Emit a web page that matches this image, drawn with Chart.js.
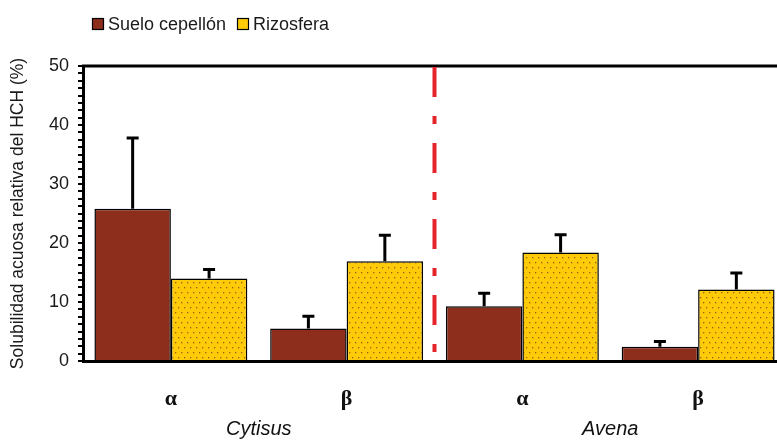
<!DOCTYPE html>
<html>
<head>
<meta charset="utf-8">
<script src="https://cdn.jsdelivr.net/npm/chart.js@4.4.1/dist/chart.umd.min.js"></script>
<style>
  html, body { margin: 0; padding: 0; background: #fff; overflow: hidden; width: 777px; height: 441px; }
  #wrap { width: 800px; height: 441px; }
</style>
</head>
<body>
<div id="wrap"><canvas id="chart" width="800" height="441"></canvas></div>
<script>
// HCH isomers per plant, and the two plant groups
const isomers = ['α', 'β', 'α', 'β'];
const plants = ['Cytisus', 'Avena'];

// Relative aqueous solubility of HCH (%) and standard errors
const sueloCepellon = [25.8, 5.5, 9.3, 2.4];
const sueloCepellonErr = [12.0, 2.1, 2.2, 0.9];
const rizosfera = [14.0, 16.9, 18.4, 12.1];
const rizosferaErr = [1.5, 4.4, 3.0, 2.8];

// Labelled y values; minor ticks fall in between
const yMajorTicks = [0, 10, 20, 30, 40, 50];
const yMinorStep = 1.25;

const BROWN = '#8C2E1B';
const YELLOW = '#FFCB08';

function dottedYellow() {
  const tile = document.createElement('canvas');
  tile.width = 6; tile.height = 10;
  const g = tile.getContext('2d');
  g.fillStyle = YELLOW;
  g.fillRect(0, 0, 6, 10);
  g.fillStyle = '#946414';
  g.fillRect(1, 2, 1.3, 1.3);
  g.fillRect(4, 7, 1.3, 1.3);
  return g.createPattern(tile, 'repeat');
}

const errorSets = [sueloCepellonErr, rizosferaErr];

const errorBars = {
  id: 'errorBars',
  afterDatasetsDraw(chart) {
    const { ctx, scales: { y } } = chart;
    chart.data.datasets.forEach((ds, di) => {
      const meta = chart.getDatasetMeta(di);
      meta.data.forEach((bar, i) => {
        const top = y.getPixelForValue(ds.data[i]);
        const tip = y.getPixelForValue(ds.data[i] + errorSets[di][i]);
        ctx.save();
        ctx.strokeStyle = '#000';
        ctx.lineWidth = 3;
        ctx.beginPath();
        ctx.moveTo(bar.x, top);
        ctx.lineTo(bar.x, tip);
        ctx.moveTo(bar.x - 6, tip);
        ctx.lineTo(bar.x + 6, tip);
        ctx.stroke();
        ctx.restore();
      });
    });
  }
};

// Frame top edge and the dash-dot separator between the plant groups
const frameAndDivider = {
  id: 'frameAndDivider',
  afterDatasetsDraw(chart) {
    const { ctx, chartArea: a, scales: { x } } = chart;
    ctx.save();
    ctx.strokeStyle = '#000';
    ctx.lineWidth = 3;
    ctx.beginPath();
    ctx.moveTo(a.left - 1, a.top);
    ctx.lineTo(a.right, a.top);
    ctx.stroke();
    const sx = x.getPixelForValue(1.5);
    ctx.strokeStyle = '#E5232B';
    ctx.lineWidth = 4;
    ctx.setLineDash([30, 19, 8, 19]);
    ctx.beginPath();
    ctx.moveTo(sx, a.top + 1);
    ctx.lineTo(sx, a.bottom - 2);
    ctx.stroke();
    ctx.restore();
  }
};

const topLegend = {
  id: 'topLegend',
  afterDraw(chart) {
    const ctx = chart.ctx;
    const items = [
      { text: 'Suelo cepellón', fill: BROWN, x: 92 },
      { text: 'Rizosfera', fill: YELLOW, x: 237 }
    ];
    ctx.save();
    ctx.font = '18px "Liberation Sans", Arial, sans-serif';
    ctx.textBaseline = 'alphabetic';
    items.forEach(it => {
      ctx.fillStyle = it.fill;
      ctx.fillRect(it.x, 18, 12, 12);
      ctx.strokeStyle = '#000';
      ctx.lineWidth = 1.2;
      ctx.strokeRect(it.x + 0.5, 18.5, 11, 11);
      ctx.fillStyle = '#1a1a1a';
      ctx.fillText(it.text, it.x + 16, 30);
    });
    ctx.restore();
  }
};

new Chart(document.getElementById('chart'), {
  type: 'bar',
  data: {
    labels: isomers,
    datasets: [
      {
        label: 'Suelo cepellón',
        data: sueloCepellon,
        backgroundColor: BROWN,
        borderColor: '#000',
        borderWidth: 1.5
      },
      {
        label: 'Rizosfera',
        data: rizosfera,
        backgroundColor: dottedYellow(),
        borderColor: '#000',
        borderWidth: 1.5
      }
    ]
  },
  options: {
    responsive: false,
    animation: false,
    categoryPercentage: 0.87,
    barPercentage: 1.0,
    layout: { padding: { top: 66, right: 14, left: 0, bottom: 0 } },
    plugins: {
      legend: { display: false },
      tooltip: { enabled: false }
    },
    scales: {
      x: {
        type: 'category',
        labels: isomers,
        offset: true,
        grid: { display: false, drawTicks: false },
        border: { display: true, color: '#000', width: 3 },
        ticks: {
          color: '#111',
          padding: 25,
          maxRotation: 0,
          font: { family: '"Liberation Serif", serif', size: 22, weight: 'bold' }
        },
        afterFit(s) { s.height = 50; }
      },
      x2: {
        type: 'category',
        labels: plants,
        position: 'bottom',
        offset: true,
        grid: { display: false, drawTicks: false },
        border: { display: false },
        ticks: {
          color: '#111',
          padding: 6,
          maxRotation: 0,
          font: { family: '"Liberation Sans", Arial, sans-serif', size: 20, style: 'italic' }
        },
        afterFit(s) { s.height = 30; }
      },
      y: {
        min: 0,
        max: 50,
        afterBuildTicks(s) {
          const t = [];
          for (let v = 0; v <= 50 + 1e-9; v += yMinorStep) t.push({ value: Math.round(v * 100) / 100 });
          s.ticks = t;
        },
        grid: {
          display: true,
          drawOnChartArea: false,
          drawTicks: true,
          tickLength: 5,
          color: '#000',
          lineWidth: 2
        },
        border: { display: true, color: '#000', width: 3 },
        ticks: {
          autoSkip: false,
          color: '#1a1a1a',
          padding: 9,
          font: { family: '"Liberation Sans", Arial, sans-serif', size: 18 },
          callback(v) { return yMajorTicks.includes(v) ? String(v) : ''; }
        },
        title: {
          display: true,
          text: 'Solubilidad acuosa relativa del HCH (%)',
          color: '#1a1a1a',
          padding: { top: 8, bottom: 0 },
          font: { family: '"Liberation Sans", Arial, sans-serif', size: 17.5 }
        },
        afterFit(s) { s.width = 83; }
      }
    }
  },
  plugins: [errorBars, frameAndDivider, topLegend]
});
</script>
</body>
</html>
